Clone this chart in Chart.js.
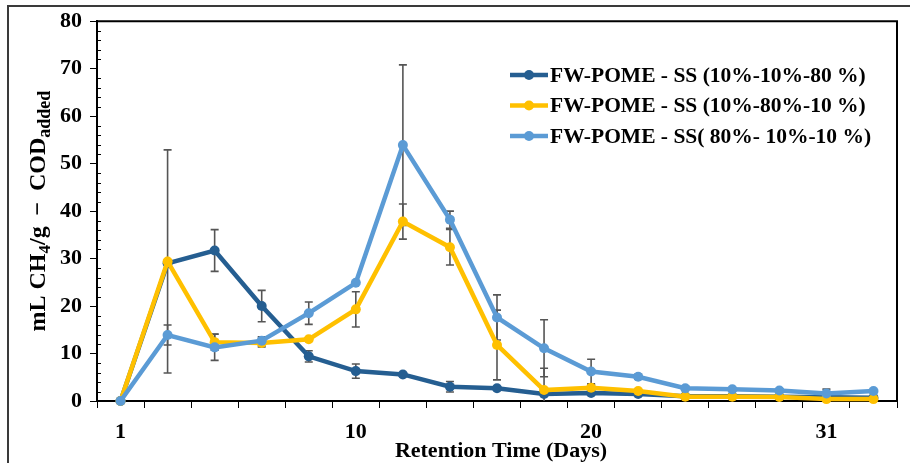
<!DOCTYPE html>
<html>
<head>
<meta charset="utf-8">
<script src="https://cdn.jsdelivr.net/npm/chart.js@4.4.1/dist/chart.umd.min.js"></script>
<style>
  html, body { margin: 0; padding: 0; background: #ffffff; }
  #wrap { width: 910px; height: 463px; position: relative; }
</style>
</head>
<body>
<div id="wrap"><canvas id="chart" width="910" height="463"></canvas></div>
<script>
// Sampling points along the retention-time axis (only every fifth one is labelled)
const categories = ['1', '', '', '', '', '10', '', '', '', '', '20', '', '', '', '', '31', ''];

const seriesNames = [
  'FW-POME - SS (10%-10%-80 %)',
  'FW-POME - SS (10%-80%-10 %)',
  'FW-POME - SS( 80%- 10%-10 %)'
];

// Specific methane yield, mL CH4 / g COD added
const mix10_10_80 = [0, 29.0, 31.7, 20.0, 9.4, 6.3, 5.6, 3.0, 2.7, 1.5, 1.7, 1.5, 1.0, 1.0, 0.9, 0.8, 0.7];
const mix10_80_10 = [0, 29.4, 12.4, 12.2, 13.0, 19.3, 37.8, 32.4, 11.8, 2.3, 2.8, 2.1, 0.9, 0.9, 0.85, 0.4, 0.4];
const mix80_10_10 = [0, 13.9, 11.3, 12.7, 18.5, 24.9, 53.9, 38.2, 17.6, 11.1, 6.2, 5.1, 2.7, 2.45, 2.2, 1.6, 2.1];

// Standard deviations (symmetric error bars)
const err10_10_80 = [0, 0, 4.4, 3.3, 1.2, 1.5, 0, 1.1, 0, 0.4, 0, 0, 0, 0, 0, 0, 0];
const err10_80_10 = [0, 23.5, 1.7, 0.8, 0, 3.7, 3.7, 3.75, 7.35, 4.6, 0.6, 0, 0, 0, 0, 0, 0];
const err80_10_10 = [0, 2.1, 2.75, 0.8, 2.35, 0, 16.9, 1.8, 4.75, 6.0, 2.6, 0.5, 0.5, 0.3, 0.3, 0.9, 0];

const colors = ['#255E91', '#FFC000', '#5B9BD5'];
const yTickValues = [0, 10, 20, 30, 40, 50, 60, 70, 80];

const FONT = '"Liberation Serif", "Times New Roman", serif';

const seriesValues = [mix10_10_80, mix10_80_10, mix80_10_10];
const seriesErrors = [err10_10_80, err10_80_10, err80_10_10];

const datasets = seriesValues.map((vals, i) => ({
  label: seriesNames[i],
  data: vals,
  errors: seriesErrors[i],
  borderColor: colors[i],
  backgroundColor: colors[i],
  pointBackgroundColor: colors[i],
  pointBorderColor: colors[i],
  pointBorderWidth: 0,
  pointRadius: 5,
  borderWidth: 4.5,
  tension: 0,
  clip: false,
  order: 3 - i
}));

const decor = {
  id: 'decor',
  beforeDraw(chart) {
    const ctx = chart.ctx;
    ctx.save();
    ctx.fillStyle = '#ffffff';
    ctx.fillRect(0, 0, chart.width, chart.height);
    // outer chart frame
    ctx.strokeStyle = '#3a3a3a';
    ctx.lineWidth = 2;
    ctx.beginPath();
    ctx.moveTo(8, chart.height + 2);
    ctx.lineTo(8, 6);
    ctx.lineTo(chart.width + 2, 6);
    ctx.stroke();
    ctx.restore();
  },
  beforeDatasetsDraw(chart) {
    const ctx = chart.ctx;
    const ys = chart.scales.y;
    ctx.save();
    ctx.strokeStyle = '#555555';
    ctx.lineWidth = 1.6;
    chart.data.datasets.forEach((ds, i) => {
      const meta = chart.getDatasetMeta(i);
      ds.data.forEach((v, j) => {
        const e = ds.errors[j];
        if (!e) return;
        const x = meta.data[j].x;
        const yt = ys.getPixelForValue(v + e);
        const yb = ys.getPixelForValue(Math.max(0, v - e));
        ctx.beginPath();
        ctx.moveTo(x, yt); ctx.lineTo(x, yb);
        ctx.moveTo(x - 4, yt); ctx.lineTo(x + 4, yt);
        if (v - e > 0) { ctx.moveTo(x - 4, yb); ctx.lineTo(x + 4, yb); }
        ctx.stroke();
      });
    });
    ctx.restore();
  },
  afterDraw(chart) {
    const ctx = chart.ctx;
    const a = chart.chartArea;
    const ys = chart.scales.y;
    ctx.save();
    // plot area box (top and right sides)
    ctx.strokeStyle = '#000';
    ctx.lineWidth = 2;
    ctx.beginPath();
    ctx.moveTo(a.left, a.top);
    ctx.lineTo(a.right, a.top);
    ctx.lineTo(a.right, a.bottom);
    ctx.stroke();
    // minor ticks on the value axis
    ctx.lineWidth = 1;
    ctx.beginPath();
    for (let v = ys.min; v <= ys.max; v += 2) {
      if (v % 10 === 0) continue;
      const y = Math.round(ys.getPixelForValue(v)) + 0.5;
      ctx.moveTo(a.left, y); ctx.lineTo(a.left + 4, y);
    }
    ctx.stroke();

    // legend inside plot area
    ctx.font = 'bold 21.5px ' + FONT;
    ctx.textBaseline = 'middle';
    ctx.textAlign = 'left';
    chart.data.datasets.forEach((ds, i) => {
      const y = 75 + i * 30.5;
      ctx.strokeStyle = ds.borderColor;
      ctx.lineWidth = 4.5;
      ctx.beginPath();
      ctx.moveTo(510, y); ctx.lineTo(548, y);
      ctx.stroke();
      ctx.fillStyle = ds.borderColor;
      ctx.beginPath();
      ctx.arc(529, y, 5, 0, Math.PI * 2);
      ctx.fill();
      ctx.fillStyle = '#000';
      ctx.fillText(ds.label, 550, y + 1);
    });

    // x axis title
    ctx.font = 'bold 22px ' + FONT;
    ctx.textAlign = 'center';
    ctx.fillText('Retention Time (Days)', (a.left + a.right) / 2 + 4, 451);

    // y axis title with subscripts
    const parts = [
      { t: 'mL CH', s: 24, dy: 0 },
      { t: '4', s: 17, dy: 5 },
      { t: '/g \u2009\u2212\u2009 COD', s: 24, dy: 0 },
      { t: 'added', s: 18, dy: 5 }
    ];
    ctx.save();
    ctx.translate(37, (a.top + a.bottom) / 2);
    ctx.rotate(-Math.PI / 2);
    let total = 0;
    parts.forEach(p => { ctx.font = 'bold ' + p.s + 'px ' + FONT; p.w = ctx.measureText(p.t).width; total += p.w; });
    let x = -total / 2;
    ctx.textAlign = 'left';
    ctx.textBaseline = 'alphabetic';
    parts.forEach(p => {
      ctx.font = 'bold ' + p.s + 'px ' + FONT;
      ctx.fillText(p.t, x, 8 + p.dy);
      x += p.w;
    });
    ctx.restore();
    ctx.restore();
  }
};

new Chart(document.getElementById('chart'), {
  type: 'line',
  data: { labels: categories, datasets },
  options: {
    responsive: false,
    animation: false,
    devicePixelRatio: 1,
    layout: { padding: { left: 0, right: 13, top: 20, bottom: 0 } },
    plugins: { legend: { display: false }, tooltip: { enabled: false } },
    scales: {
      x: {
        type: 'category',
        offset: true,
        afterFit(scale) { scale.height = 62; },
        grid: { offset: true, drawOnChartArea: false, tickLength: 7, color: '#000', lineWidth: 1 },
        border: { color: '#000', width: 2 },
        ticks: {
          autoSkip: false, maxRotation: 0, color: '#000', padding: 11,
          font: { family: FONT, weight: 'bold', size: 22 }
        }
      },
      y: {
        min: 0, max: 80,
        afterFit(scale) { scale.width = 97; },
        afterBuildTicks(scale) { scale.ticks = yTickValues.map(v => ({ value: v })); },
        grid: { drawOnChartArea: false, tickLength: 7, color: '#000', lineWidth: 1 },
        border: { color: '#000', width: 2 },
        ticks: {
          color: '#000', padding: 8,
          font: { family: FONT, weight: 'bold', size: 22 }
        }
      }
    }
  },
  plugins: [decor]
});
</script>
</body>
</html>
